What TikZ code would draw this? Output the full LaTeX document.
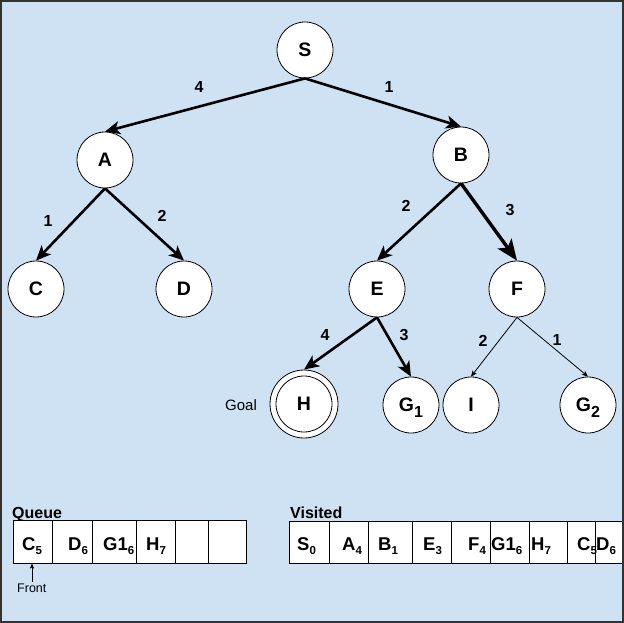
\documentclass[tikz,border=0pt]{standalone}
\usepackage{fontspec}
\setmainfont{Liberation Sans}
\usetikzlibrary{arrows.meta,shapes.geometric}
\definecolor{bgblue}{HTML}{CFE2F3}
\definecolor{framegray}{HTML}{333333}
\newcommand\sbn[1]{\raisebox{-4pt}[0pt][0pt]{\fontsize{11.5}{11.5}\selectfont #1}}
\newcommand\sbg[1]{\raisebox{-6pt}[0pt][0pt]{\fontsize{16}{16}\selectfont #1}}
\tikzset{
  st/.style={circle, draw=black, fill=white, line width=0.8pt, minimum size=56pt, inner sep=0pt,
    font=\fontsize{19.5}{19.5}\selectfont\bfseries},
  edgeA/.style={line width=2.6pt, -{Stealth[length=15pt,width=13pt,inset=4pt]}},
  edgeB/.style={line width=3.4pt, -{Stealth[length=21pt,width=17pt,inset=5pt]}},
  edgeC/.style={line width=0.8pt, -{Stealth[length=6pt,width=5pt,inset=1.5pt]}},
  elabel/.style={inner sep=0pt, font=\fontsize{16}{16}\selectfont\bfseries},
  cell/.style={draw=black, fill=white, line width=0.8pt},
  celltext/.style={anchor=base west, inner sep=0pt, font=\fontsize{18.5}{18.5}\selectfont\bfseries},
  title/.style={anchor=base west, inner sep=0pt, font=\fontsize{16}{16}\selectfont\bfseries},
}
\begin{document}
\begin{tikzpicture}[x=1pt,y=-1pt]
\useasboundingbox (0,0) rectangle (624,623);
\draw[framegray, line width=2pt, fill=bgblue] (1,1) rectangle (623,622);

% tree nodes
\node[st] (S) at (305,50) {S};
\node[st] (A) at (105,160) {A};
\node[st] (B) at (461,155) {B};
\node[st] (C) at (36,289) {C};
\node[st] (D) at (184,289) {D};
\node[st] (E) at (377,289) {E};
\node[st] (F) at (517,289) {F};
\node[st, minimum size=68pt] (Hout) at (304,404) {};
\node[st] (H) at (304,404) {H};
\node[st] (G1) at (411,405) {G\sbg{1}};
\node[st] (I) at (471,405) {I};
\node[st] (G2) at (588,405) {G\sbg{2}};
\node[anchor=base west, inner sep=0pt, font=\fontsize{15}{15}\selectfont] (goal) at (225,410) {Goal};

% edges
\draw[edgeA] (S.south) -- (A.north);
\draw[edgeA] (S.south) -- (B.north);
\draw[edgeA] (A.south) -- (C.north);
\draw[edgeA] (A.south) -- (D.north);
\draw[edgeA] (B.south) -- (E.north);
\draw[edgeB] (B.south) -- (F.north);
\draw[edgeA] (E.south) -- (Hout.north);
\draw[edgeA] (E.south) -- (G1.north);
\draw[edgeC] (F.south) -- (I.north);
\draw[edgeC] (F.south) -- (G2.north);

% edge labels
\node[elabel] (l1) at (199,87) {4};
\node[elabel] (l2) at (389,87) {1};
\node[elabel] (l3) at (48,221) {1};
\node[elabel] (l4) at (162,216) {2};
\node[elabel] (l5) at (406,206) {2};
\node[elabel] (l6) at (510,210) {3};
\node[elabel] (l7) at (325,335) {4};
\node[elabel] (l8) at (404,335) {3};
\node[elabel] (l9) at (483,341) {2};
\node[elabel] (l10) at (557,340) {1};

% queue
\node[title] (qt) at (12,518) {Queue};
\foreach \a/\b in {13/52,52/92,92/136,136/175,175/208,208/246}
  \draw[cell] (\a,520) rectangle (\b,563);
\node[celltext] (q1) at (22,550) {C\sbn{5}};
\node[celltext] (q2) at (68,550) {D\sbn{6}};
\node[celltext] (q3) at (103,550) {G1\sbn{6}};
\node[celltext] (q4) at (146,550) {H\sbn{7}};
\coordinate (fronttip) at (32,563.5);
\node[anchor=base west, inner sep=0pt, font=\fontsize{12.5}{12.5}\selectfont] (front) at (17,592) {Front};
\draw[line width=0.7pt, -{Stealth[length=5pt,width=4pt,inset=1pt]}] (32,582) -- (fronttip);

% visited
\node[title] (vt) at (290,518) {Visited};
\foreach \a/\b in {289/329,329/368,368/412,412/451,451/490,490/529,529/567,567/595,595/622}
  \draw[cell] (\a,521) rectangle (\b,563);
\node[celltext] (v1) at (297,550) {S\sbn{0}};
\node[celltext] (v2) at (342,550) {A\sbn{4}};
\node[celltext] (v3) at (378,550) {B\sbn{1}};
\node[celltext] (v4) at (423,550) {E\sbn{3}};
\node[celltext] (v5) at (468,550) {F\sbn{4}};
\node[celltext] (v6) at (491,550) {G1\sbn{6}};
\node[celltext] (v7) at (531,550) {H\sbn{7}};
\node[celltext] (v8) at (577,550) {C\sbn{5}};
\node[celltext] (v9) at (596,550) {D\sbn{6}};
\draw[framegray, line width=2pt] (623,1) -- (623,622);
\end{tikzpicture}
\end{document}
